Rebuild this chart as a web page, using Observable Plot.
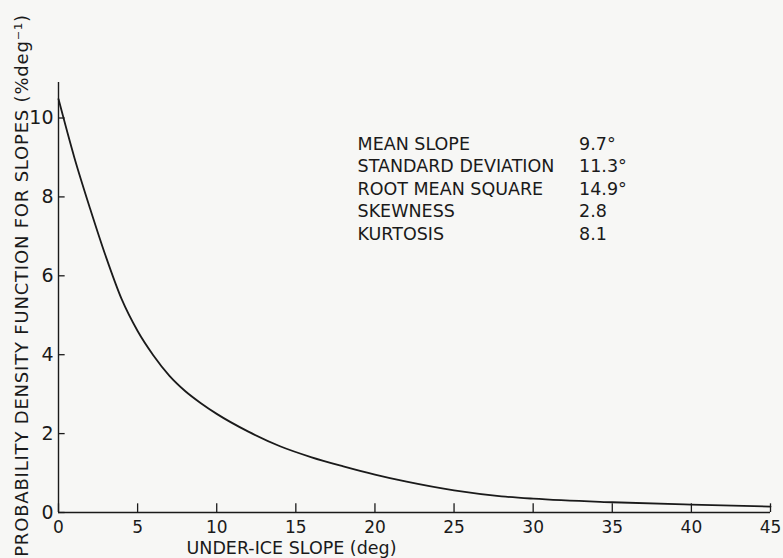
<!DOCTYPE html>
<html>
<head>
<meta charset="utf-8">
<script src="https://cdn.jsdelivr.net/npm/d3@7"></script>
<script src="https://cdn.jsdelivr.net/npm/@observablehq/plot@0.6"></script>
<style>
  html, body { margin: 0; padding: 0; background: #f7f7f5; }
  #chart svg { background: #f7f7f5; font-family: "DejaVu Sans", sans-serif; color: #1a1a1a; }
</style>
</head>
<body>
<div id="chart"></div>
<script>
// Under-ice slope distribution (probability density, % per degree)
const slopeDeg = [0, 1, 2, 3, 4, 5, 6, 7, 8, 9, 10, 12, 14, 16, 18, 20, 22, 25, 28, 30, 35, 40, 45];
const density  = [10.48, 9.0, 7.7, 6.48, 5.4, 4.6, 3.98, 3.47, 3.08, 2.77, 2.5, 2.05, 1.68, 1.4, 1.17, 0.96, 0.78, 0.56, 0.41, 0.35, 0.26, 0.2, 0.15];

const xTicks = [0, 5, 10, 15, 20, 25, 30, 35, 40, 45];
const yTicks = [0, 2, 4, 6, 8, 10];

// Summary statistics listed inside the plot
const statLabels = ["MEAN SLOPE", "STANDARD DEVIATION", "ROOT MEAN SQUARE", "SKEWNESS", "KURTOSIS"];
const statValues = ["9.7°", "11.3°", "14.9°", "2.8", "8.1"];

const xLabel = "UNDER-ICE SLOPE (deg)";
const yLabel = "PROBABILITY DENSITY FUNCTION FOR SLOPES (%deg⁻¹)";

const curve = slopeDeg.map((x, i) => ({x, y: density[i]}));
const stats = statLabels.map((label, i) => ({label, value: statValues[i], row: i}));
const rowY = (d) => 9.34 - d.row * 0.57;

const ink = "#1a1a1a";

const chart = Plot.plot({
  width: 783,
  height: 558,
  marginLeft: 58,
  marginRight: 13,
  marginTop: 82,
  marginBottom: 46,
  x: {domain: [0, 45]},
  y: {domain: [0, 10.9]},
  marks: [
    // axis lines
    Plot.ruleY([0], {stroke: ink, strokeWidth: 1.4}),
    Plot.ruleX([0], {stroke: ink, strokeWidth: 1.4}),
    // inward tick marks
    Plot.ruleX(xTicks, {y1: 0, y2: 0.22, stroke: ink, strokeWidth: 1.3}),
    Plot.ruleY(yTicks, {x1: 0, x2: 0.42, stroke: ink, strokeWidth: 1.3}),
    // tick labels
    Plot.axisX({ticks: xTicks, tickSize: 0, tickPadding: 8, fontSize: 17, label: null, fill: ink}),
    Plot.axisY({ticks: yTicks, tickSize: 0, tickPadding: 5, fontSize: 19, label: null, fill: ink}),
    // axis titles
    Plot.text([xLabel], {frameAnchor: "bottom", textAnchor: "middle", lineAnchor: "middle", dx: -123, dy: 36, fontSize: 17.5, fill: ink}),
    Plot.text([yLabel], {frameAnchor: "left", textAnchor: "middle", lineAnchor: "middle", rotate: -90, dx: -36, dy: -12, fontSize: 18, fill: ink}),
    // density curve
    Plot.line(curve, {x: "x", y: "y", curve: "monotone-x", stroke: ink, strokeWidth: 1.8}),
    // statistics table
    Plot.text(stats, {x: 18.9, y: rowY, text: "label", textAnchor: "start", fontSize: 17.5, fill: ink}),
    Plot.text(stats, {x: 32.9, y: rowY, text: "value", textAnchor: "start", fontSize: 17.5, fill: ink})
  ]
});

// widen the lettering of the vertical axis title
d3.select(chart).selectAll("text")
  .filter(function () { return this.textContent === yLabel; })
  .style("letter-spacing", "0.8px");

document.getElementById("chart").appendChild(chart);
</script>
</body>
</html>
